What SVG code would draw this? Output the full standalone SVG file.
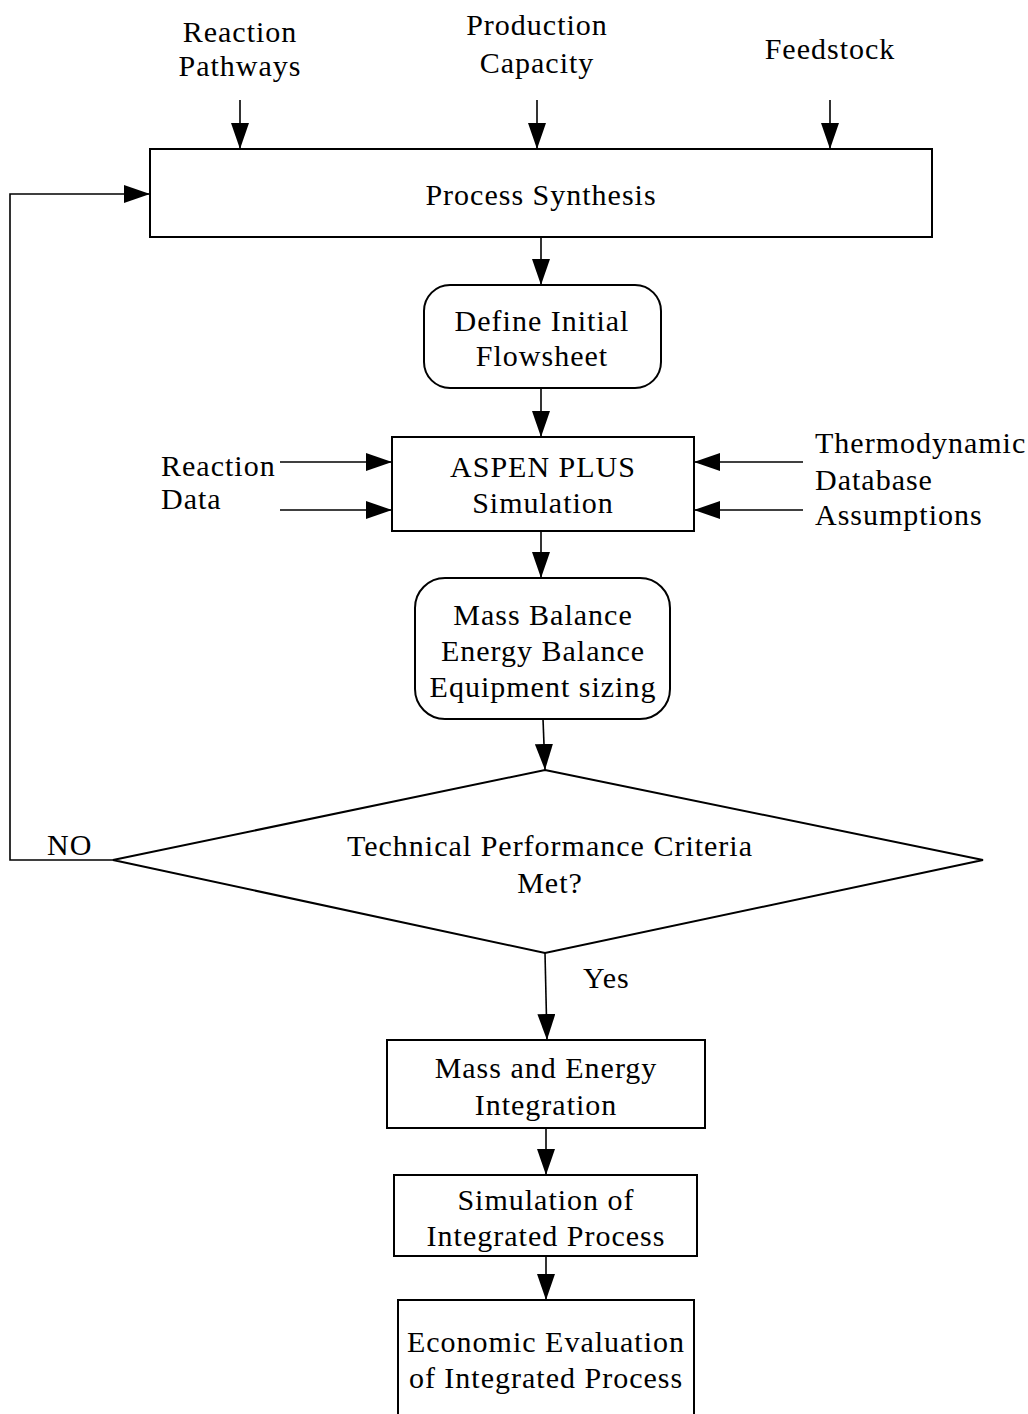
<svg xmlns="http://www.w3.org/2000/svg" width="1028" height="1414" viewBox="0 0 1028 1414">
<style>
text{font-family:"Liberation Serif","Times New Roman",serif;font-size:30px;letter-spacing:1px;fill:#000}
.c{text-anchor:middle}
.box{fill:#fff;stroke:#000;stroke-width:2}
.ln{fill:none;stroke:#000;stroke-width:1.6}
</style>
<defs>
<marker id="ah" markerWidth="26" markerHeight="18" refX="26" refY="9" orient="auto" markerUnits="userSpaceOnUse"><path d="M0,0 L26,9 L0,18 z" fill="#000"/></marker>
</defs>
<rect width="1028" height="1414" fill="#fff"/>
<g id="connectors">
<line class="ln" x1="240" y1="100" x2="240" y2="149" marker-end="url(#ah)"/>
<line class="ln" x1="537" y1="100" x2="537" y2="149" marker-end="url(#ah)"/>
<line class="ln" x1="830" y1="100" x2="830" y2="149" marker-end="url(#ah)"/>
<line class="ln" x1="541" y1="237" x2="541" y2="285" marker-end="url(#ah)"/>
<line class="ln" x1="541" y1="388" x2="541" y2="437" marker-end="url(#ah)"/>
<line class="ln" x1="280" y1="462" x2="392" y2="462" marker-end="url(#ah)"/>
<line class="ln" x1="280" y1="510" x2="392" y2="510" marker-end="url(#ah)"/>
<line class="ln" x1="803" y1="462" x2="694" y2="462" marker-end="url(#ah)"/>
<line class="ln" x1="803" y1="510" x2="694" y2="510" marker-end="url(#ah)"/>
<line class="ln" x1="541" y1="531" x2="541" y2="578" marker-end="url(#ah)"/>
<line class="ln" x1="543" y1="719" x2="545" y2="770" marker-end="url(#ah)"/>
<polyline class="ln" points="113,860 10,860 10,194 150,194" marker-end="url(#ah)"/>
<line class="ln" x1="545" y1="953" x2="547" y2="1040" marker-end="url(#ah)"/>
<line class="ln" x1="546" y1="1128" x2="546" y2="1175" marker-end="url(#ah)"/>
<line class="ln" x1="546" y1="1256" x2="546" y2="1300" marker-end="url(#ah)"/>
</g>
<g id="inputs-top">
<text class="c" x="240" y="42">Reaction</text>
<text class="c" x="240" y="76">Pathways</text>
<text class="c" x="537" y="35">Production</text>
<text class="c" x="537" y="73">Capacity</text>
<text class="c" x="830" y="59">Feedstock</text>
</g>
<g id="process-synthesis">
<rect class="box" x="150" y="149" width="782" height="88"/>
<text class="c" x="541" y="205">Process Synthesis</text>
</g>
<g id="define-flowsheet">
<rect class="box" x="424" y="285" width="237" height="103" rx="26"/>
<text class="c" x="542" y="331">Define Initial</text>
<text class="c" x="542" y="366">Flowsheet</text>
</g>
<g id="aspen">
<rect class="box" x="392" y="437" width="302" height="94"/>
<text class="c" x="543" y="477">ASPEN PLUS</text>
<text class="c" x="543" y="513">Simulation</text>
</g>
<g id="reaction-data">
<text x="161" y="476">Reaction</text>
<text x="161" y="509">Data</text>
</g>
<g id="thermo">
<text x="815" y="453">Thermodynamic</text>
<text x="815" y="490">Database</text>
<text x="815" y="525">Assumptions</text>
</g>
<g id="balances">
<rect class="box" x="415" y="578" width="255" height="141" rx="30"/>
<text class="c" x="543" y="625">Mass Balance</text>
<text class="c" x="543" y="661">Energy Balance</text>
<text class="c" x="543" y="697">Equipment sizing</text>
</g>
<g id="decision">
<polygon class="box" points="545,770 983,860 545,953 113,860"/>
<text class="c" x="550" y="856">Technical Performance Criteria</text>
<text class="c" x="550" y="893">Met?</text>
</g>
<g id="labels">
<text x="47" y="855">NO</text>
<text x="583" y="988">Yes</text>
</g>
<g id="integration">
<rect class="box" x="387" y="1040" width="318" height="88"/>
<text class="c" x="546" y="1078">Mass and Energy</text>
<text class="c" x="546" y="1115">Integration</text>
</g>
<g id="simulation-integrated">
<rect class="box" x="394" y="1175" width="303" height="81"/>
<text class="c" x="546" y="1210">Simulation of</text>
<text class="c" x="546" y="1246">Integrated Process</text>
</g>
<g id="economic">
<path class="box" d="M398,1416 L398,1300 L694,1300 L694,1416"/>
<text class="c" x="546" y="1352">Economic Evaluation</text>
<text class="c" x="546" y="1388">of Integrated Process</text>
</g>
</svg>
